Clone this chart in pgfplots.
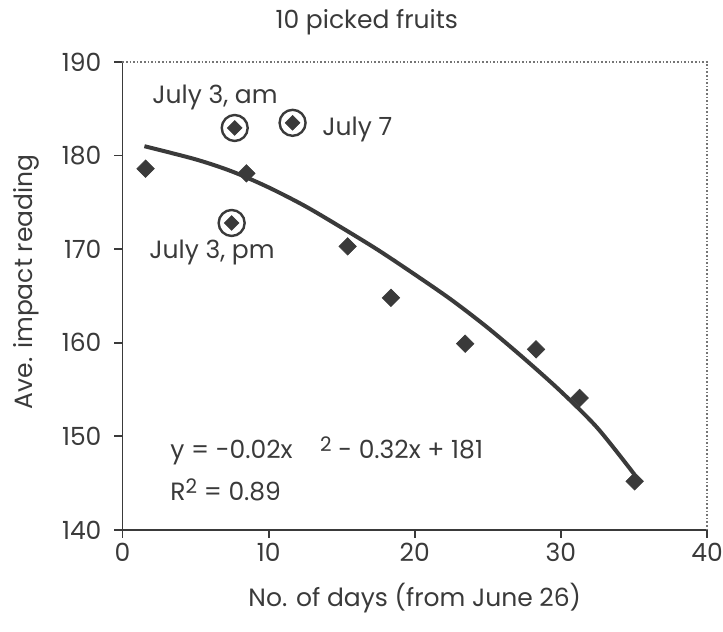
\documentclass[border=0pt]{standalone}
\usepackage{pgfplots}
\pgfplotsset{compat=1.18}
\usepackage{fontspec}
\setmainfont{Poppins}
\definecolor{ink}{HTML}{3A3A3A}
\newcommand{\tfont}{\fontsize{12.5}{14}\selectfont}
\begin{document}
\begin{tikzpicture}
\begin{axis}[
  name=ax,
  scale only axis,
  width=292.25pt, height=234pt,
  xmin=0, xmax=40, ymin=140, ymax=190,
  xtick={0,10,20,30,40}, ytick={140,150,160,170,180,190},
  axis x line*=bottom, axis y line*=left,
  axis line style={ink, line width=0.9pt, -},
  tick style={ink, line width=0.9pt},
  tick align=outside,
  major tick length=4pt,
  /pgf/number format/assume math mode=true,
  tick label style={font=\tfont, text=ink},
  xticklabel style={yshift=1pt},
  yticklabel style={xshift=-3pt},
  clip=false,
]
\draw[ink!70, densely dotted, line width=0.8pt] (rel axis cs:0,1) -- (rel axis cs:1,1) -- (rel axis cs:1,0);
\addplot[ink, line width=2pt, smooth] coordinates {
(1.5,181.0)(5,179.6)(7.5,178.3)(10,176.6)(12.5,174.6)(15,172.3)(17.5,169.9)(20,167.3)(22.5,164.6)(25,161.6)(27.5,158.3)(30,154.8)(32.5,150.9)(35,146.0)};
\addplot[only marks, mark=square*, mark size=3.1pt, mark options={rotate=45, fill=ink, draw=ink, line width=0.3pt}] coordinates {
(1.58,178.6)(8.48,178.1)(15.41,170.3)(18.37,164.8)(23.45,159.9)(28.3,159.3)(31.28,154.1)(35.05,145.2)};
\addplot[only marks, mark=*, mark size=6.5pt, mark options={fill=white, draw=ink, line width=1.2pt}] coordinates {
(7.68,182.95)(11.64,183.5)(7.47,172.8)};
\addplot[only marks, mark=square*, mark size=2.6pt, mark options={rotate=45, fill=ink, draw=ink, line width=0.3pt}] coordinates {
(7.68,182.95)(11.64,183.5)(7.47,172.8)};
\node[text=ink, font=\tfont] at (axis cs:6.33,186.26) {July 3, am};
\node[text=ink, font=\tfont, anchor=west] at (axis cs:13.2,182.84) {July 7};
\node[text=ink, font=\tfont] at (axis cs:6.13,169.6) {July 3, pm};
\node[text=ink, font=\tfont, anchor=west, inner sep=0pt] at (axis cs:3.25,148.44) {y = -0.02x\hspace{1.1em}\raisebox{0.55ex}{\fontsize{10}{11}\selectfont 2} - 0.32x + 181};
\node[text=ink, font=\tfont, anchor=west, inner sep=0pt] at (axis cs:3.25,144.27) {R\raisebox{0.55ex}{\fontsize{10}{11}\selectfont 2} = 0.89};
\node[text=ink, font=\tfont] at ([yshift=20pt]rel axis cs:0.418,1) {10 picked fruits};
\node[text=ink, font=\tfont] at ([yshift=-34pt]rel axis cs:0.5,0) {No. of days (from June 26)};
\node[text=ink, font=\tfont, rotate=90] at ([xshift=-48pt]rel axis cs:0,0.53) {Ave. impact reading};
\end{axis}
\pgfresetboundingbox
\path[use as bounding box] ([xshift=-61.25pt,yshift=-51pt]ax.south west) rectangle ([xshift=8pt,yshift=31pt]ax.north east);
\end{tikzpicture}
\end{document}
